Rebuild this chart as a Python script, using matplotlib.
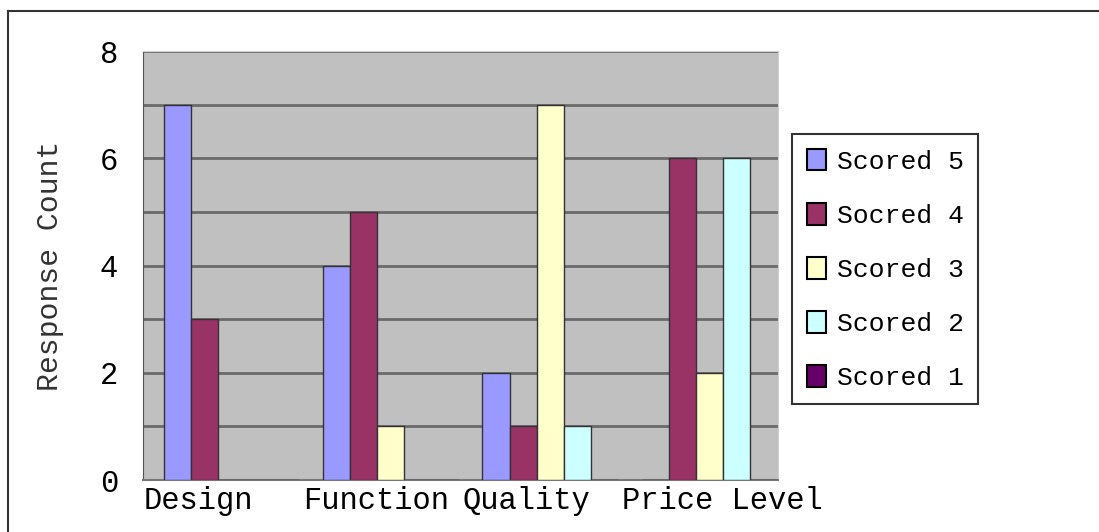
import numpy as np
import matplotlib
matplotlib.use("Agg")
import matplotlib.pyplot as plt
from matplotlib.lines import Line2D

categories = ["Design", "Function", "Quality", "Price Level"]
series_names = ["Scored 5", "Socred 4", "Scored 3", "Scored 2", "Scored 1"]
scored5 = [7, 4, 2, 0]
scored4 = [3, 5, 1, 6]
scored3 = [0, 1, 7, 2]
scored2 = [0, 0, 1, 6]
scored1 = [0, 0, 0, 0]
colors = ["#9999FF", "#993366", "#FFFFCC", "#CCFFFF", "#660066"]

plt.rcParams['font.family'] = ['Liberation Mono', 'DejaVu Sans Mono']

fig = plt.figure(figsize=(10.99, 5.32), dpi=100)
ax = fig.add_axes([0.1301, 0.0977, 0.5779, 0.8063])
ax.set_facecolor("#C0C0C0")

x = np.arange(len(categories))
w = 0.17
all_series = [scored5, scored4, scored3, scored2, scored1]
for i, (vals, name, c) in enumerate(zip(all_series, series_names, colors)):
    ax.bar(x + (i - 2) * w, vals, width=w, color=c, edgecolor="#333333",
           linewidth=1, label=name, zorder=3)

ax.set_xlim(-0.555, 3.43)
ax.set_ylim(0, 8)
ax.set_yticks([0, 2, 4, 6, 8])
ax.set_yticks(range(0, 9), minor=True)
ax.grid(axis='y', which='both', color="#6a6a6a", linewidth=2, zorder=1)
# category labels start at the left edge of each category slot, like the original
ax.set_xticks(x - 0.55)
ax.set_xticklabels(categories, fontsize=22, ha='left')
ax.tick_params(axis='x', length=0, pad=4)
ax.tick_params(axis='y', which='both', length=0, pad=18, labelsize=22)
ax.set_ylabel("Response Count", fontsize=21.5, color="#333333", labelpad=26)

for s in ["top", "right"]:
    ax.spines[s].set_color("#d0d0d0")
ax.spines["left"].set_color("#555555")
ax.spines["bottom"].set_color("#777777")
ax.spines["bottom"].set_linewidth(1.5)

leg = ax.legend(loc="upper left", bbox_to_anchor=(0.7207, 0.748),
                bbox_transform=fig.transFigure, fontsize=19, frameon=True,
                fancybox=False, edgecolor="black", handlelength=0.75,
                handleheight=0.9, handletextpad=0.4, labelspacing=1.1,
                borderpad=0.55, borderaxespad=0)
leg.get_frame().set_linewidth(1.5)
for h in leg.legend_handles:
    h.set_edgecolor("black")
    h.set_linewidth(1.5)

# outer chart border (cropped at right and bottom)
fig.add_artist(Line2D([8 / 1099, 8 / 1099], [0, 1 - 11 / 532], color="#333333",
                      linewidth=1.5, transform=fig.transFigure))
fig.add_artist(Line2D([8 / 1099, 1], [1 - 11 / 532, 1 - 11 / 532], color="#333333",
                      linewidth=1.5, transform=fig.transFigure))

fig.savefig("out.png", dpi=100)
